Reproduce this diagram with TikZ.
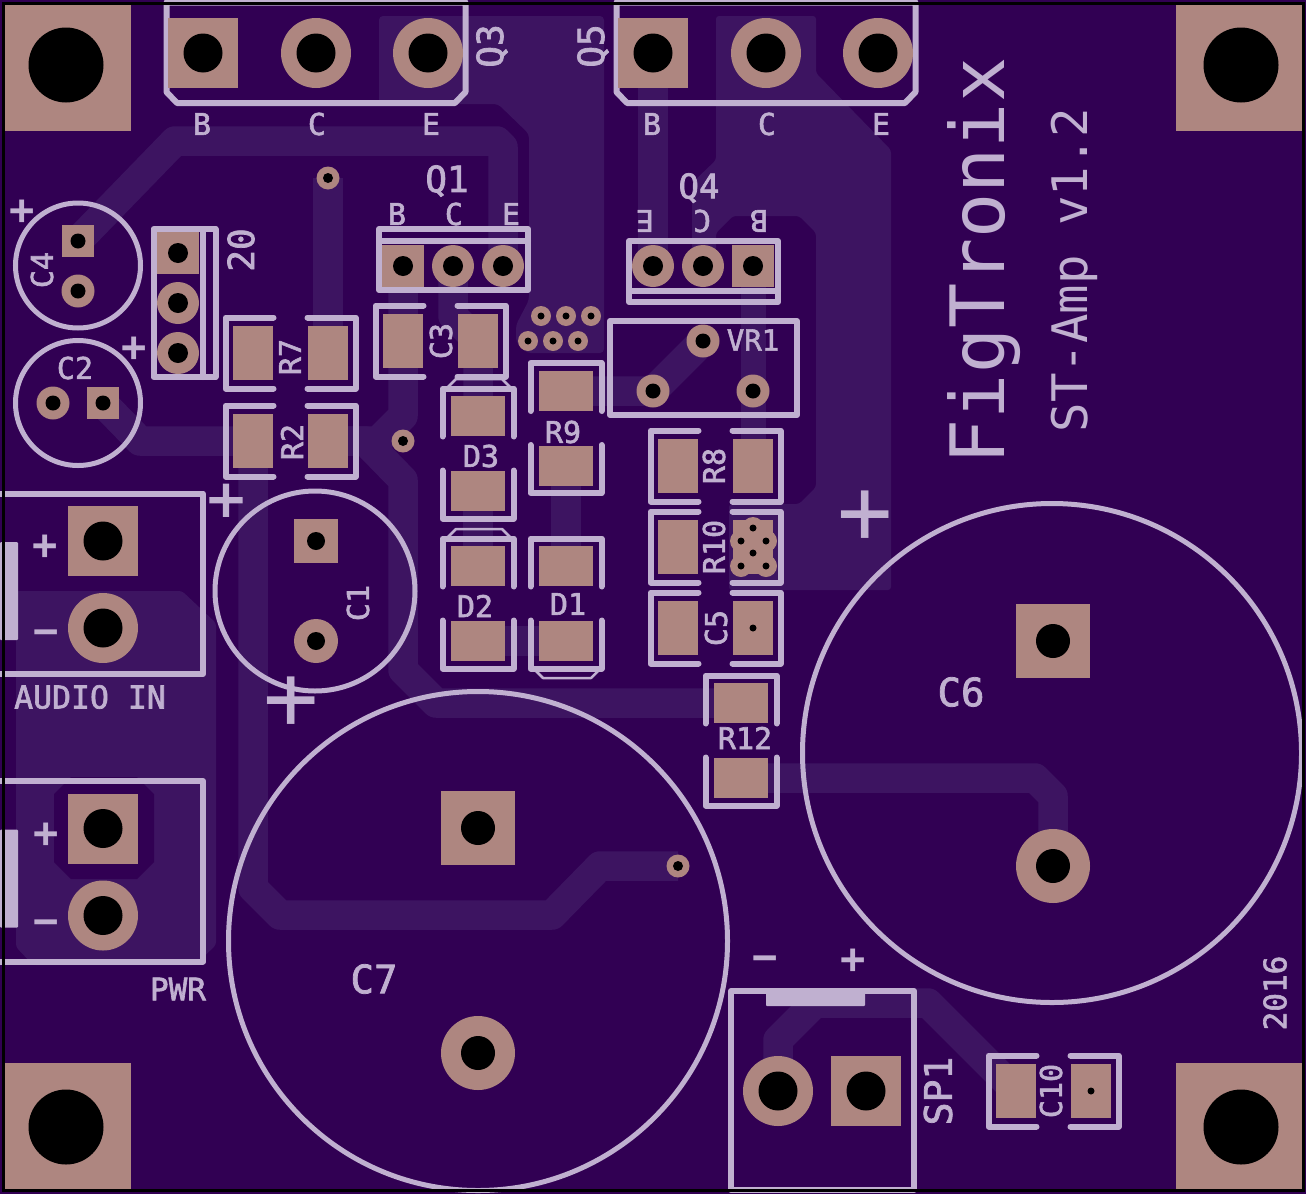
\documentclass[tikz,border=0pt]{standalone}
\usepackage{fontspec}
\setmainfont{DejaVu Sans Mono}
\newfontfamily\silkfont[FakeBold=2]{DejaVu Sans Mono}
\definecolor{boardcol}{RGB}{49,0,83}
\definecolor{tracecol}{RGB}{61,20,97}
\definecolor{silkcol}{RGB}{192,176,208}
\definecolor{coppercol}{RGB}{174,134,128}
\newcommand{\fs}[1]{\fontsize{#1}{#1}\selectfont}
\tikzset{
  silk/.style={draw=silkcol, line width=6pt, line cap=round, line join=round},
  thinsilk/.style={draw=silkcol, line width=2.5pt, line join=round},
  ring/.style={draw=silkcol, line width=5pt},
  trace/.style={draw=tracecol, line width=29.5pt, line join=round},
  copper/.style={fill=coppercol},
  lab/.style={text=silkcol, inner sep=0pt, font=\silkfont\fs{#1}},
  lab/.default=30,
  biglab/.style={text=silkcol, inner sep=0pt, font=\fs{#1}},
  sign/.style={text=silkcol, inner sep=0pt, font=\fs{#1}\bfseries},
  sign/.default=42
}
% round pad: position, pad radius, hole radius
\newcommand{\roundpad}[3]{
  \fill[copper] (#1) circle[radius=#2pt];
  \fill[black] (#1) circle[radius=#3pt];
}
% square pad: x, y, half side, hole radius
\newcommand{\squarepad}[4]{
  \fill[copper] (#1-#3,#2-#3) rectangle (#1+#3,#2+#3);
  \fill[black] (#1,#2) circle[radius=#4pt];
}
% two pads with their brackets: x, y, rotation
\newcommand{\smdpair}[3]{
  \begin{scope}[shift={(#1,#2)},rotate=#3]
    \fill[copper] (-27,-57.5) rectangle (27,-17.5);
    \fill[copper] (-27,17.5) rectangle (27,57.5);
    \draw[silk] (-35.5,-17) -- (-35.5,-65) -- (35.5,-65) -- (35.5,-17);
    \draw[silk] (-35.5,17) -- (-35.5,65) -- (35.5,65) -- (35.5,17);
  \end{scope}
}
\begin{document}
\begin{tikzpicture}[x=1pt,y=-1pt]
  \useasboundingbox (0,0) rectangle (1306,1194);
  \fill[boardcol] (0,0) rectangle (1306,1194);

  % copper pours
  \fill[tracecol, rounded corners=4pt] (379,16) -- (604,16) -- (604,353) -- (527,353) -- (516,342) -- (516,325) -- (529,300) -- (529,134) -- (498,104) -- (379,104) -- cycle;
  \fill[tracecol, rounded corners=3pt] (716,16) -- (816,16) -- (816,73) -- (891,150) -- (891,590) -- (729,590) -- (729,504) -- (799,504) -- (816,487) -- (816,233) -- (799,216) -- (733,216) -- (716,233) -- (716,266) -- (692,266) -- (692,183) -- (716,160) -- cycle;
  \fill[tracecol, rounded corners=3pt] (16,591) -- (182,591) -- (216,623) -- (216,945) -- (195,965) -- (33,965) -- (16,947) -- cycle;
  \fill[boardcol] (71,777) -- (137,777) -- (154,794) -- (154,862) -- (137,879) -- (71,879) -- (54,862) -- (54,794) -- cycle;

  % traces
  \draw[trace] (78,241) -- (175,141) -- (497,141) -- (503,147) -- (503,266);
  \draw[trace] (328,178) -- (328,353);
  \draw[trace] (103,403) -- (140,441) -- (253,441);
  \draw[trace] (403,266) -- (403,416) -- (378,441) -- (328,441);
  \draw[trace] (328,441) -- (365,441) -- (403,480) -- (403,670) -- (436,703) -- (741,703);
  \draw[trace] (453,266) -- (453,316) -- (478,341) -- (478,416);
  \draw[trace] (478,491) -- (478,566);
  \draw[trace] (566,466) -- (566,566);
  \draw[trace] (478,641) -- (566,641);
  \draw[trace] (566,391) -- (653,391) -- (703,341);
  \draw[trace] (653,53) -- (653,266);
  \draw[trace, line width=25pt] (753,266) -- (753,466);
  \draw[trace] (741,778) -- (1035,778) -- (1053,796) -- (1053,866);
  \draw[trace] (678,866) -- (600,866) -- (552,915) -- (280,915) -- (253,888) -- (253,441);
  \draw[trace] (778,1091) -- (778,1040) -- (815,1003) -- (928,1003) -- (1016,1091);

  % mounting holes
  \fill[coppercol] (5,5) rectangle (131,131);
  \fill[coppercol] (1176,5) rectangle (1302,131);
  \fill[coppercol] (5,1063) rectangle (131,1190);
  \fill[coppercol] (1176,1063) rectangle (1302,1190);
  \fill[black] (66,65) circle[radius=37.5pt];
  \fill[black] (1241,65) circle[radius=37.5pt];
  \fill[black] (66,1127) circle[radius=37.5pt];
  \fill[black] (1241,1127) circle[radius=37.5pt];

  % Q3, Q5
  \foreach \dx in {0,450} {
    \begin{scope}[shift={(\dx,0)}]
      \draw[silk] (166.5,2.5) -- (166.5,92) -- (177,103) -- (455,103) -- (465.5,92) -- (465.5,2.5) -- cycle;
      \squarepad{203}{53}{35}{19.5}
      \roundpad{316,53}{35}{19.5}
      \roundpad{428,53}{35}{19.5}
    \end{scope}
  }
  \node[lab=30] (q3b) at (202,124) {B};
  \node[lab=30] (q3c) at (317,124) {C};
  \node[lab=30] (q3e) at (431,124) {E};
  \node[lab=30] (q5b) at (652,124) {B};
  \node[lab=30] (q5c) at (767,124) {C};
  \node[lab=30] (q5e) at (881,124) {E};
  \node[lab=36, rotate=90] (q3) at (492,46) {Q3};
  \node[lab=36, rotate=90] (q5) at (593,46) {Q5};

  % Q1, Q4
  \draw[silk] (379,229) rectangle (528,290);
  \draw[silk] (379,241) -- (528,241);
  \squarepad{403}{266}{21}{10}
  \roundpad{453,266}{21}{10}
  \roundpad{503,266}{21}{10}
  \node[lab=36] (q1) at (447,181) {Q1};
  \node[lab=30] (q1b) at (397,214) {B};
  \node[lab=30] (q1c) at (454,214) {C};
  \node[lab=30] (q1e) at (511,214) {E};
  \draw[silk] (629,241) rectangle (778,302);
  \draw[silk] (629,291) -- (778,291);
  \roundpad{653,266}{21}{10}
  \roundpad{703,266}{21}{10}
  \squarepad{753}{266}{21}{10}
  \node[lab=34] (q4) at (699,188) {Q4};
  \node[lab=30, rotate=180] (q4e) at (645,221) {E};
  \node[lab=30, rotate=180] (q4c) at (702,221) {C};
  \node[lab=30, rotate=180] (q4b) at (759,221) {B};

  % header 20
  \draw[silk] (153.5,229) rectangle (215.5,377);
  \draw[silk] (203,229) -- (203,377);
  \squarepad{178}{253}{21}{10}
  \roundpad{178,303}{21}{10}
  \roundpad{178,353}{21}{10}
  \node[lab=36, rotate=90] (h20) at (241,250) {20};

  % C4, C2
  \draw[ring] (78,265.5) circle[radius=62.5pt];
  \squarepad{78}{241}{16}{7.5}
  \roundpad{78,291}{16.5}{7.5}
  \node[lab=30, rotate=90] (c4) at (42,270) {C4};
  \node[sign] (c4p) at (22,212) {+};
  \draw[ring] (78,403) circle[radius=62.5pt];
  \roundpad{53,403}{16.5}{7.5}
  \squarepad{103}{403}{16}{7.5}
  \node[lab=30] (c2) at (75,368) {C2};
  \node[sign] (c2p) at (134,349) {+};

  % C1
  \draw[ring] (315,591) circle[radius=100pt];
  \squarepad{316}{541}{22}{9}
  \roundpad{316,641}{22}{9}
  \node[lab=30, rotate=90] (c1) at (358,603) {C1};
  \node[lab=62] (c1p) at (226,502) {+};
  \node[biglab=92] (c7p) at (291,703) {+};

  % C7, C6
  \draw[ring] (478,941) circle[radius=249.5pt];
  \squarepad{478}{828}{37}{17}
  \roundpad{478,1053}{37}{17}
  \node[lab=39] (c7) at (374,979) {C7};
  \draw[ring] (1052,753) circle[radius=249.5pt];
  \squarepad{1053}{641}{37}{17}
  \roundpad{1053,866}{37}{17}
  \node[lab=39] (c6) at (961,692) {C6};
  \node[biglab=92] (c6p) at (865,517) {+};

  % two terminal blocks
  \foreach \dy in {0,287.5} {
    \begin{scope}[shift={(0,\dy)}]
      \draw[silk] (0,493.5) -- (203,493.5) -- (203,674) -- (0,674);
      \fill[silkcol, rounded corners=1pt] (0,542) rectangle (18,640);
      \squarepad{103}{541}{35}{19.5}
      \roundpad{103,628}{35}{19.5}
    \end{scope}
  }
  \node[sign] (inp) at (45.5,547) {+};
  \node[sign] (inm) at (46,638) {−};
  \node[lab=31.5] (audio) at (90,697) {AUDIO IN};
  \node[sign] (pwrp) at (46,835) {+};
  \node[sign] (pwrm) at (46,928) {−};
  \node[lab=31] (pwr) at (178,989) {PWR};

  % surface mount parts
  \smdpair{290.5}{353}{90}
  \node[lab=30, rotate=90] (r7) at (290,357) {R7};
  \smdpair{290.5}{441}{90}
  \node[lab=30, rotate=90] (r2) at (292,442) {R2};
  \smdpair{440.5}{341}{90}
  \node[lab=30, rotate=90] (c3) at (441,341) {C3};
  \smdpair{478}{453.5}{0}
  \draw[thinsilk] (447,388) -- (456,379) -- (502,379) -- (511,388);
  \node[lab=30] (d3) at (481,456) {D3};
  \smdpair{478}{603.5}{0}
  \draw[thinsilk] (447,538) -- (456,529) -- (502,529) -- (511,538);
  \node[lab=30] (d2) at (475,606) {D2};
  \smdpair{566}{428}{0}
  \node[lab=30] (r9) at (563,432) {R9};
  \smdpair{566}{603.5}{0}
  \draw[thinsilk] (534,669) -- (543,678) -- (591,678) -- (600,669);
  \node[lab=30] (d1) at (568,604) {D1};
  \smdpair{715.5}{466}{90}
  \node[lab=30, rotate=90] (r8) at (714,466) {R8};
  \smdpair{715.5}{547}{90}
  \node[lab=30, rotate=90] (r10) at (714,547) {R10};
  \foreach \vx/\vy in {753/528,741/541,766/541,753/553,741/566,766/566} {
    \fill[coppercol] (\vx,\vy) circle[radius=11pt];
  }
  \foreach \vx/\vy in {753/528,741/541,766/541,753/553,741/566,766/566} {
    \fill[black] (\vx,\vy) circle[radius=3.5pt];
  }
  \smdpair{715.5}{628}{90}
  \fill[black] (753,628) circle[radius=3.5pt];
  \node[lab=30, rotate=90] (c5) at (716,628) {C5};
  \smdpair{741}{740.5}{0}
  \node[lab=30] (r12) at (745,738) {R12};
  \smdpair{1053.5}{1091}{90}
  \fill[black] (1091,1091) circle[radius=3.5pt];
  \node[lab=30, rotate=90] (c10) at (1051,1091) {C10};

  % test points
  \foreach \vx/\vy in {541/316,566/316,591/316,528/341,553/341,578/341} {
    \roundpad{\vx,\vy}{10}{3.5}
  }
  \roundpad{328,178}{11.5}{5}
  \roundpad{403,441}{11.5}{5}
  \roundpad{678,866}{11.5}{5}

  % VR1
  \draw[silk] (610,321) rectangle (797,415);
  \roundpad{703,341}{16.5}{7.5}
  \roundpad{653,391}{16.5}{7.5}
  \roundpad{753,391}{16.5}{7.5}
  \node[lab=29] (vr1) at (753,340) {VR1};

  % SP1
  \draw[silk] (731,1190) -- (731,991) -- (914,991) -- (914,1190) -- cycle;
  \fill[silkcol, rounded corners=1pt] (766,991) rectangle (865,1006);
  \roundpad{778,1091}{35}{19.5}
  \squarepad{866}{1091}{35}{19.5}
  \node[sign] (spm) at (765,964) {−};
  \node[sign] (spp) at (853,961) {+};
  \node[lab=38, rotate=90] (sp1) at (938,1091) {SP1};

  % board text
  \node[biglab=75, rotate=90] (figtronix) at (984,261) {FigTronix};
  \node[biglab=49, rotate=90] (stamp) at (1074,270) {ST-Amp v1.2};
  \node[lab=31, rotate=90] (year) at (1275,993) {2016};

  % board outline
  \draw[black, line width=3pt] (3.5,3) rectangle (1303.5,1190);
\end{tikzpicture}
\end{document}
